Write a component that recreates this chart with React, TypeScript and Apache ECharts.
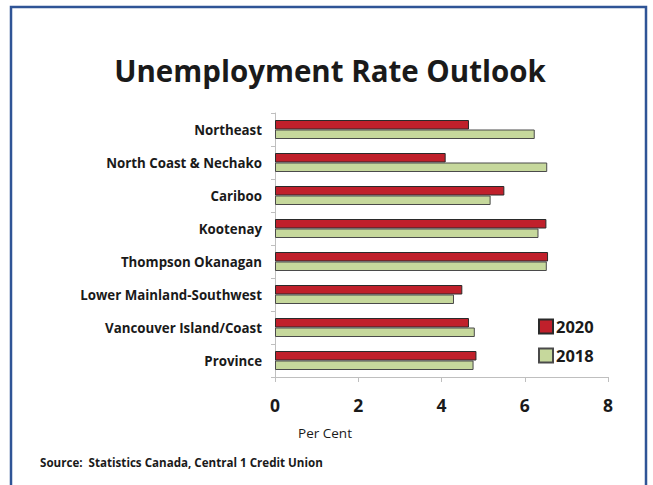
import React, { useEffect, useRef } from "react";
import * as echarts from "echarts";

const categories = [
  "Northeast",
  "North Coast & Nechako",
  "Cariboo",
  "Kootenay",
  "Thompson Okanagan",
  "Lower Mainland-Southwest",
  "Vancouver Island/Coast",
  "Province",
];
const values2020 = [4.66, 4.1, 5.51, 6.52, 6.56, 4.5, 4.66, 4.84];
const values2018 = [6.24, 6.54, 5.18, 6.33, 6.53, 4.3, 4.8, 4.77];
const xTicks = [0, 2, 4, 6, 8];
const seriesNames = ["2020", "2018"];

const FONT = "'Open Sans', Lato, sans-serif";

export default function App() {
  const ref = useRef<HTMLDivElement>(null);
  useEffect(() => {
    if (!ref.current) return;
    const chart = echarts.init(ref.current, undefined, { renderer: "svg" });
    chart.setOption({
      animation: false,
      backgroundColor: "#ffffff",
      textStyle: { fontFamily: FONT },
      graphic: [
        {
          type: "rect",
          shape: { x: 11, y: 7, width: 635, height: 500 },
          style: { fill: "none", stroke: "#2F5496", lineWidth: 2.5 },
          silent: true,
        },
        {
          type: "text",
          x: 330,
          y: 70,
          style: {
            text: "Unemployment Rate Outlook",
            font: `bold 29.5px ${FONT}`,
            fill: "#1a1a1a",
            textAlign: "center",
            textVerticalAlign: "middle",
          },
        },
        {
          type: "text",
          x: 325,
          y: 433,
          style: {
            text: "Per Cent",
            font: `13.5px ${FONT}`,
            fill: "#1a1a1a",
            textAlign: "center",
            textVerticalAlign: "middle",
          },
        },
        {
          type: "text",
          x: 40,
          y: 462,
          style: {
            text: "Source:  Statistics Canada, Central 1 Credit Union",
            font: `bold 11.6px ${FONT}`,
            fill: "#1a1a1a",
            textAlign: "left",
            textVerticalAlign: "middle",
          },
        },
      ],
      legend: {
        orient: "vertical",
        left: 533,
        top: 313,
        itemWidth: 14,
        itemHeight: 14,
        itemGap: 12,
        icon: "rect",
        data: seriesNames,
        textStyle: { fontFamily: FONT, fontWeight: "bold", fontSize: 16.5, color: "#1a1a1a", padding: [0, 0, 0, -2] },
      },
      grid: { left: 275, right: 45, top: 113, bottom: 108, containLabel: false },
      xAxis: {
        type: "value",
        min: 0,
        max: 8,
        interval: 2,
        axisLine: { show: true, lineStyle: { color: "#BFBFBF", width: 1 } },
        axisTick: { show: true, length: 5, lineStyle: { color: "#BFBFBF" } },
        splitLine: { show: false },
        axisLabel: {
          fontFamily: FONT,
          fontWeight: "bold",
          fontSize: 17.5,
          color: "#1a1a1a",
          margin: 19,
          formatter: (v: number) => (xTicks.includes(v) ? String(v) : ""),
        },
      },
      yAxis: {
        type: "category",
        inverse: true,
        data: categories,
        axisLine: { show: true, lineStyle: { color: "#BFBFBF", width: 1 } },
        axisTick: { show: true, length: 4, lineStyle: { color: "#BFBFBF" } },
        axisLabel: {
          fontFamily: FONT,
          fontWeight: "bold",
          fontSize: 13.3,
          color: "#1a1a1a",
          margin: 13,
          padding: [0, 0, 3, 0],
        },
      },
      series: [
        {
          name: seriesNames[0],
          type: "bar",
          data: values2020,
          barWidth: 9.5,
          barGap: "0%",
          itemStyle: { color: "#C0202B", borderColor: "#2a2a2a", borderWidth: 1 },
        },
        {
          name: seriesNames[1],
          type: "bar",
          data: values2018,
          barWidth: 9.5,
          barGap: "0%",
          itemStyle: { color: "#C6D89C", borderColor: "#4a4a4a", borderWidth: 1 },
        },
      ],
    });
    return () => chart.dispose();
  }, []);
  return <div ref={ref} style={{ width: 653, height: 485, position: "absolute", left: 0, top: 0 }} />;
}
